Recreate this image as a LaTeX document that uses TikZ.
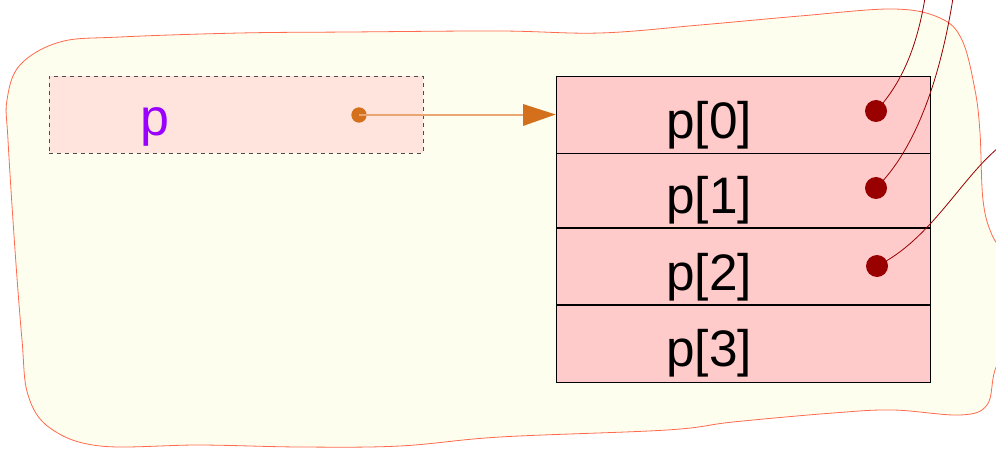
\documentclass[tikz,border=0pt]{standalone}
\usepackage{fontspec}
\setmainfont{Liberation Sans}
\usetikzlibrary{arrows.meta}
\definecolor{blobfill}{HTML}{FEFEEF}
\definecolor{blobline}{HTML}{FF6A4D}
\definecolor{varfill}{HTML}{FFE4DE}
\definecolor{cellfill}{HTML}{FFCACA}
\definecolor{dotred}{HTML}{990000}
\definecolor{ptrorange}{HTML}{D4701C}
\definecolor{lineorange}{HTML}{E8A672}
\definecolor{purp}{HTML}{9900FF}
\tikzset{
  cell/.style={draw=black, line width=0.6pt, fill=cellfill, minimum width=374*0.75pt, inner sep=0pt},
  celltext/.style={font=\fontsize{38.5}{38.5}\selectfont, anchor=base},
  reddot/.style={circle, fill=dotred, inner sep=0pt, minimum size=16.5pt},
  redlink/.style={draw=dotred, line width=0.6pt},
}
\begin{document}
\begin{tikzpicture}[x=0.75pt,y=-0.75pt]
\useasboundingbox (0,0) rectangle (996,449);
\begin{scope}
\clip (0,0) rectangle (996,449);
\draw[blobline, fill=blobfill, line width=0.6pt] plot[smooth cycle, tension=0.6] coordinates {
(60,42) (120,37) (240,33) (350,32) (500,31) (600,33) (700,25) (800,16) (893,9) (940,18) (962,40) (975,90) (980,133) (983,200) (992,235) (1012,270) (1012,330) (995,370) (987,405) (960,415) (893,410) (833,413) (733,422) (667,430) (500,437) (400,446) (300,447) (200,445) (100,446) (50,428) (28,395) (22,340) (15,250) (8,140) (7,100) (20,65)};
\end{scope}
% pointer variable p
\node[draw=black!70, dashed, fill=varfill, line width=0.6pt, minimum width=374*0.75pt, minimum height=77*0.75pt, inner sep=0pt] (pvar) at (236,114.5) {};
\node[text=purp, font=\fontsize{39}{39}\selectfont, anchor=base] (plabel) at (155,136) {p};
\node[circle, fill=ptrorange, inner sep=0pt, minimum size=11.5pt] (pdot) at (359,115) {};
% array cells
\node[cell, minimum height=77*0.75pt] (c0) at (743,114.5) {};
\node[cell, minimum height=74*0.75pt, anchor=north] (c1) at (c0.south) {};
\node[cell, minimum height=76*0.75pt, anchor=north] (c2) at (c1.south) {};
\node[cell, minimum height=77*0.75pt, anchor=north] (c3) at (c2.south) {};
\node[celltext] (t0) at (709,139) {p[0]};
\node[celltext] (t1) at (709,214) {p[1]};
\node[celltext] (t2) at (709,290) {p[2]};
\node[celltext] (t3) at (709,366) {p[3]};
% pointer arrow
\draw[lineorange, line width=1.3pt] (pdot.center) -- (523,115);
\fill[ptrorange] (523,104) -- (c0.west) -- (523,126) -- cycle;
% red dots and links
\node[reddot] (d0) at (876,111) {};
\node[reddot] (d1) at (876,188) {};
\node[reddot] (d2) at (877,266) {};
\coordinate (e0) at (925,-2);
\coordinate (e1) at (953,-2);
\coordinate (e2) at (998,148);
\draw[redlink] (d0.center) .. controls (905,80) and (918,40) .. (e0);
\draw[redlink] (d1.center) .. controls (915,150) and (940,80) .. (e1);
\draw[redlink] (d2.center) .. controls (930,240) and (960,180) .. (e2);
\end{tikzpicture}
\end{document}
